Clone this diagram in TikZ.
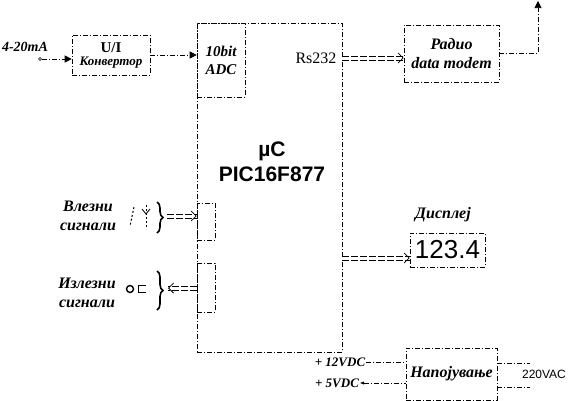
\documentclass[tikz,border=0pt]{standalone}
\usepackage{fontspec}
\setmainfont{Liberation Serif}
\newfontfamily\arialfont{Liberation Sans}
\usetikzlibrary{arrows.meta,decorations.pathreplacing}

\tikzset{
  linija/.style={line width=0.6pt, dash pattern=on 5pt off 2pt on 1pt off 2pt},
  blok/.style={draw, linija, inner sep=0pt},
  natpis/.style={font=\bfseries\itshape\fontsize{16}{19}\selectfont, align=center, inner sep=1pt},
  dvojna/.style={
    preaction={draw, line width=0.6pt, dash pattern=on 7pt off 2pt, transform canvas={yshift=2.2pt}},
    preaction={draw, line width=0.6pt, dash pattern=on 7pt off 2pt, transform canvas={yshift=-2.2pt}},
    postaction={draw, white, line width=3pt, -{Straight Barb[black, length=5pt, width=10pt, line width=0.8pt]}}},
  polna/.style={linija, -{Triangle[length=7pt,width=7pt]}}
}

\begin{document}
\begin{tikzpicture}[x=1pt,y=-1pt]
    \useasboundingbox (0,0) rectangle (569,400);

    % Mikrokontroler
    \node[blok, minimum width=145pt, minimum height=329pt] (mcu) at (269.5,187.5) {};
    \node[font=\arialfont\bfseries\fontsize{21}{25}\selectfont, align=center] (mcutxt) at (272,162) {µC\\PIC16F877};
    \node[blok, minimum width=48pt, minimum height=74pt, natpis, font=\bfseries\itshape\fontsize{15}{18}\selectfont] (adc) at (221,60) {10bit\\ADC};
    \node[font=\fontsize{16}{18}\selectfont] (rs) at (316,58) {Rs232};

    % Vlez 4-20mA
    \node[natpis, font=\bfseries\itshape\fontsize{14}{17}\selectfont] (strujatxt) at (25,47) {4-20mA};
    \node[circle, draw, inner sep=0pt, minimum size=3pt] (struja) at (40,59) {};
    \node[blok, minimum width=78pt, minimum height=40pt, align=center] (ui) at (111,55)
        {\bfseries\fontsize{15}{17}\selectfont U/I\\[1pt]\bfseries\itshape\fontsize{13}{15}\selectfont Конвертор};
    \draw[polna] (struja) -- (struja -| ui.west);
    \draw[polna] (ui.east) -- (ui.east -| adc.west);

    % Radio modem i antena
    \node[blok, minimum width=95pt, minimum height=57pt, natpis] (modem) at (451.5,53.5) {Радио\\data modem};
    \path[dvojna] (rs.east -| mcu.east) -- (rs.east -| modem.west);
    \coordinate (antena) at (538,1);
    \draw[polna] (modem.east) -| (antena);

    % Displej
    \node[natpis] (disptxt) at (443,215) {Дисплеј};
    \node[blok, minimum width=75pt, minimum height=34pt, font=\arialfont\fontsize{26}{28}\selectfont] (disp) at (447.5,250) {123.4};
    \coordinate (dispvlez) at ([yshift=-8pt]disp.west);
    \path[dvojna] (dispvlez -| mcu.east) -- (dispvlez);

    % Vlezni signali
    \node[natpis] (vlez) at (88,216) {Влезни\\сигнали};
    \node[blok, minimum width=18pt, minimum height=37pt] (vlezblok) at (206,221.5) {};
    \draw[line width=1pt, dash pattern=on 2pt off 2pt] (134,207) -- (130,226);
    \draw[line width=1pt, dash pattern=on 2pt off 2pt] (146,205) -- (146,229);
    \draw[line width=0.8pt] (142,209) -- (146,214) -- (150,209);
    \draw[decorate, decoration={brace, amplitude=6pt}, line width=1.6pt] (157,202) -- (157,233);
    \coordinate (vlezkraj) at (167,216);
    \path[dvojna] (vlezkraj) -- (vlezkraj -| vlezblok.west);

    % Izlezni signali
    \node[natpis] (izlez) at (87,293) {Излезни\\сигнали};
    \node[blok, minimum width=18pt, minimum height=49pt] (izlezblok) at (206,287.5) {};
    \draw[line width=1.4pt] (130,289) circle (3.5);
    \draw[line width=0.8pt] (146,285) -- (138,285) -- (138,292) -- (146,292);
    \draw[decorate, decoration={brace, amplitude=6pt}, line width=1.6pt] (157,271) -- (157,310);
    \coordinate (izlezkraj) at (168,288);
    \path[dvojna] (izlezkraj -| izlezblok.west) -- (izlezkraj);

    % Napojuvanje
    \node[blok, minimum width=91pt, minimum height=52pt, natpis] (pwr) at (451.5,374) {Напојување};
    \node[font=\bfseries\itshape\fontsize{13}{15}\selectfont, inner sep=1pt] (v12) at (340,362) {+ 12VDC};
    \node[font=\bfseries\itshape\fontsize{13}{15}\selectfont, inner sep=1pt] (v5) at (337,383) {+ 5VDC};
    \draw[linija] (v12.east) -- (v12.east -| pwr.west);
    \draw[linija, {Triangle[length=4pt,width=3pt]}-] (v5.east) -- (v5.east -| pwr.west);
    \coordinate (ac1) at (530,363);
    \coordinate (ac2) at (530,387);
    \draw[linija] (ac1 -| pwr.east) -- (ac1);
    \draw[linija] (ac2 -| pwr.east) -- (ac2);
    \node[font=\arialfont\fontsize{12}{14}\selectfont, inner sep=1pt] (ac) at (544,374) {220VAC};
\end{tikzpicture}
\end{document}
